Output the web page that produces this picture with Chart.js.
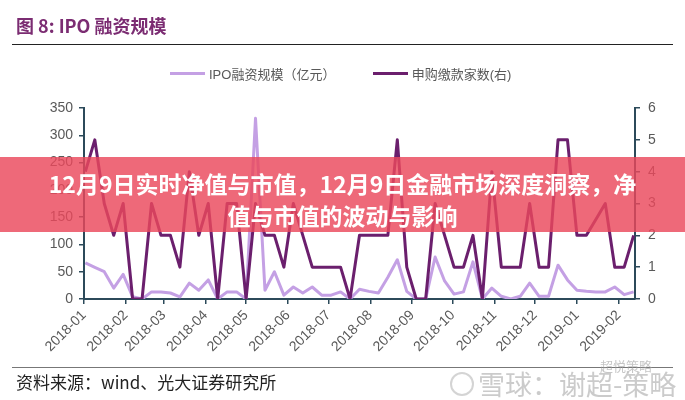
<!DOCTYPE html>
<html>
<head>
<meta charset="utf-8">
<script src="https://cdn.jsdelivr.net/npm/chart.js@4.4.0/dist/chart.umd.min.js"></script>
<style>
  body { margin: 0; width: 685px; height: 400px; background: #fff; position: relative; overflow: hidden; font-family: "Noto Sans CJK SC", "Noto Sans", sans-serif; }
  #grafico { position: absolute; left: 0; top: 0; }
  #titulo { position: absolute; left: 16px; top: 12px; font-size: 18px; font-weight: bold; color: #7b2c72; }
  .regla { position: absolute; left: 12px; width: 661px; height: 1px; }
  #leyenda { position: absolute; top: 64px; left: 170px; font-family: "Liberation Sans", "Noto Sans CJK SC", sans-serif; font-size: 13px; color: #595959; white-space: nowrap; }
  #leyenda span.muestra { display: inline-block; width: 35px; height: 3px; vertical-align: middle; margin-right: 4px; }
  #leyenda span.texto { vertical-align: middle; }
  #fuente { position: absolute; left: 16px; top: 369px; font-size: 17px; color: #222; }
  #logo { position: absolute; left: 450px; top: 372px; width: 20px; height: 20px; border: 2px solid rgba(170,170,170,0.5); border-radius: 50%; }
  #marca { position: absolute; left: 478px; top: 364px; font-size: 27px; color: rgba(160,160,160,0.55); }
  #marca2 { position: absolute; left: 600px; top: 356px; font-size: 13px; color: rgba(160,160,160,0.6); }
  #banda { position: absolute; left: 0; top: 157px; width: 685px; height: 75px; background: rgba(234,72,92,0.82); color: #fff; font-weight: bold; font-size: 23px; line-height: 32px; text-align: center; padding-top: 10px; box-sizing: border-box; }
</style>
</head>
<body>
<canvas id="grafico" width="685" height="400"></canvas>
<div id="titulo">图 8: IPO 融资规模</div>
<div class="regla" style="top:44px;background:#222;"></div>
<div id="leyenda">
  <span class="muestra" id="muestra1"></span><span class="texto" id="texto1"></span>
  <span style="display:inline-block;width:30px"></span>
  <span class="muestra" id="muestra2"></span><span class="texto" id="texto2"></span>
</div>
<div class="regla" style="top:367px;background:#777;"></div>
<div id="fuente">资料来源：wind、光大证券研究所</div>
<div id="marca2">超悦策略</div>
<div id="logo"></div>
<div id="marca">雪球：谢超-策略</div>
<div id="banda">12月9日实时净值与市值，12月9日金融市场深度洞察，净<br>值与市值的波动与影响</div>

<script>
// DATOS:
const fechas = [
  '2018-01-02', '2018-01-09', '2018-01-16', '2018-01-23', '2018-01-30',
  '2018-02-06', '2018-02-13', '2018-02-20', '2018-02-27',
  '2018-03-06', '2018-03-13', '2018-03-20', '2018-03-27',
  '2018-04-03', '2018-04-10', '2018-04-17', '2018-04-24',
  '2018-05-01', '2018-05-08', '2018-05-15', '2018-05-22', '2018-05-29',
  '2018-06-05', '2018-06-12', '2018-06-19', '2018-06-26',
  '2018-07-03', '2018-07-10', '2018-07-17', '2018-07-24', '2018-07-31',
  '2018-08-07', '2018-08-14', '2018-08-21', '2018-08-28',
  '2018-09-04', '2018-09-11', '2018-09-18', '2018-09-25',
  '2018-10-02', '2018-10-09', '2018-10-16', '2018-10-23', '2018-10-30',
  '2018-11-06', '2018-11-13', '2018-11-20', '2018-11-27',
  '2018-12-04', '2018-12-11', '2018-12-18', '2018-12-25',
  '2019-01-01', '2019-01-08', '2019-01-15', '2019-01-22', '2019-01-29',
  '2019-02-05', '2019-02-12'
];

// IPO融资规模 (亿元), eje izquierdo
const montoIPO = [
  66, 58, 50, 20, 45, 4, 0, 13, 13, 11, 4, 29, 16, 35, 0, 13, 13, 0, 331, 16,
  50, 7, 22, 11, 22, 7, 7, 13, 0, 18, 14, 11, 40, 72, 14, 0, 0, 77, 33, 9,
  13, 68, 0, 20, 5, 0, 5, 29, 5, 5, 62, 35, 16, 14, 13, 13, 22, 8, 13
];

// 申购缴款家数, eje derecho
const empresas = [
  4, 5, 3, 2, 3, 0, 0, 3, 2, 2, 1, 4, 2, 3, 0, 3, 3, 0, 3, 2,
  2, 1, 3, 2, 1, 1, 1, 1, 0, 2, 2, 2, 2, 5, 1, 0, 0, 3, 2, 1,
  1, 2, 0, 4, 1, 1, 1, 3, 1, 1, 5, 5, 2, 2, 2.5, 3, 1, 1, 2
];

const meses = [
  '2018-01', '2018-02', '2018-03', '2018-04', '2018-05', '2018-06', '2018-07',
  '2018-08', '2018-09', '2018-10', '2018-11', '2018-12', '2019-01', '2019-02'
];

const nombres = ['IPO融资规模（亿元）', '申购缴款家数(右)'];
const colorClaro = '#c4a0e4';
const colorOscuro = '#6b1f6d';
const colorEje = '#2c4a5a';

// FUNCIONES:
function dia(fecha) {
  return Math.round((Date.parse(fecha) - Date.parse('2018-01-01')) / 86400000);
}

const diasMes = meses.map(function(m) { return dia(m + '-01'); });

function puntos(valores) {
  return fechas.map(function(f, i) {
    return { x: dia(f), y: valores[i] };
  });
}

// leyenda en HTML
document.getElementById('muestra1').style.background = colorClaro;
document.getElementById('muestra2').style.background = colorOscuro;
document.getElementById('texto1').textContent = nombres[0];
document.getElementById('texto2').textContent = nombres[1];

const fuenteTicks = { family: 'Liberation Sans', size: 14 };

new Chart(document.getElementById('grafico').getContext('2d'), {
  type: 'line',
  data: {
    datasets: [
      {
        label: nombres[0],
        data: puntos(montoIPO),
        borderColor: colorClaro,
        backgroundColor: colorClaro,
        borderWidth: 3,
        pointRadius: 0,
        borderJoinStyle: 'round',
        yAxisID: 'y',
        order: 2
      },
      {
        label: nombres[1],
        data: puntos(empresas),
        borderColor: colorOscuro,
        backgroundColor: colorOscuro,
        borderWidth: 3,
        pointRadius: 0,
        borderJoinStyle: 'round',
        yAxisID: 'y1',
        order: 1
      }
    ]
  },
  options: {
    responsive: false,
    animation: false,
    layout: { padding: { top: 108, left: 0, right: 0, bottom: 0 } },
    plugins: {
      legend: { display: false },
      tooltip: { enabled: false }
    },
    scales: {
      x: {
        type: 'linear',
        min: 0,
        max: 408,
        afterBuildTicks: function(eje) {
          eje.ticks = diasMes.map(function(d) { return { value: d }; });
        },
        afterFit: function(eje) { eje.height = 101; },
        ticks: {
          autoSkip: false,
          minRotation: 45,
          maxRotation: 45,
          padding: 3,
          color: '#595959',
          font: { family: 'Liberation Sans', size: 14 },
          callback: function(valor) {
            const i = diasMes.indexOf(valor);
            return i >= 0 ? meses[i] : '';
          }
        },
        grid: { drawOnChartArea: false, drawTicks: true, tickLength: 5, color: colorEje, lineWidth: 1.5 },
        border: { display: true, color: colorEje, width: 2 }
      },
      y: {
        position: 'left',
        min: 0,
        max: 350,
        afterFit: function(eje) { eje.width = 84; },
        ticks: { stepSize: 50, padding: 6, color: '#595959', font: fuenteTicks },
        grid: { drawOnChartArea: false, drawTicks: true, tickLength: 5, color: colorEje, lineWidth: 1.5 },
        border: { display: true, color: colorEje, width: 2 }
      },
      y1: {
        position: 'right',
        min: 0,
        max: 6,
        afterFit: function(eje) { eje.width = 50; },
        ticks: { stepSize: 1, padding: 8, color: '#595959', font: fuenteTicks },
        grid: { drawOnChartArea: false, drawTicks: true, tickLength: 5, color: colorEje, lineWidth: 1.5 },
        border: { display: true, color: colorEje, width: 2 }
      }
    }
  }
});
</script>
</body>
</html>
